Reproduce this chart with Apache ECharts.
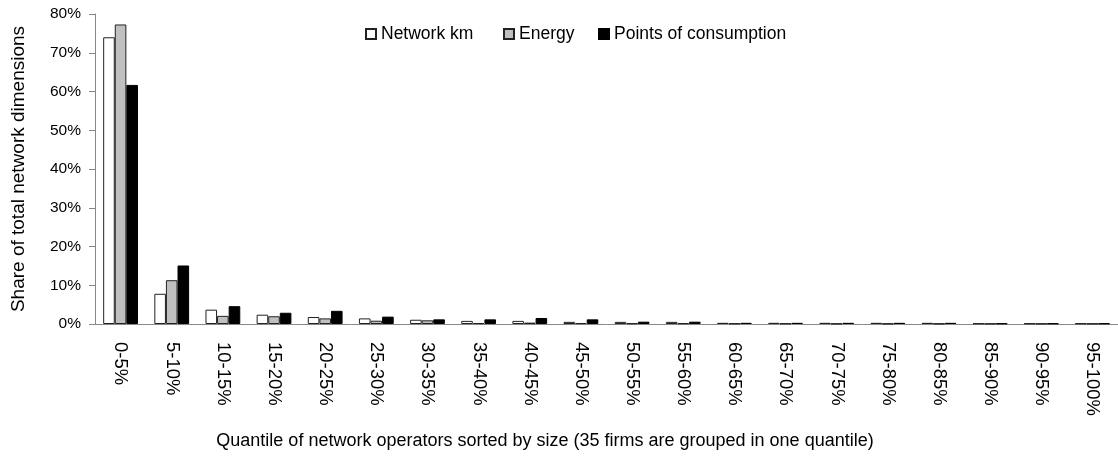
<!DOCTYPE html>
<html>
<head>
<meta charset="utf-8">
<title>Network dimensions by quantile</title>
<script src="https://cdn.jsdelivr.net/npm/echarts@6/dist/echarts.min.js"></script>
<style>
  html, body { margin: 0; padding: 0; background: #fff; }
  #container { width: 1118px; height: 456px; }
</style>
</head>
<body>
<div id="container"></div>
<script>
// quantile labels
var categories = ['0-5%', '5-10%', '10-15%', '15-20%', '20-25%', '25-30%', '30-35%', '35-40%',
  '40-45%', '45-50%', '50-55%', '55-60%', '60-65%', '65-70%', '70-75%', '75-80%',
  '80-85%', '85-90%', '90-95%', '95-100%'];

// shares in percent
var networkKm = [74.0, 7.8, 3.7, 2.4, 1.8, 1.45, 1.1, 0.8, 0.8, 0.55, 0.55, 0.55, 0.3, 0.3, 0.3, 0.3, 0.3, 0.15, 0.15, 0.15];
var energy = [77.3, 11.3, 2.1, 2.0, 1.45, 0.85, 0.95, 0.25, 0.35, 0.25, 0.2, 0.2, 0.15, 0.15, 0.1, 0.1, 0.1, 0.1, 0.1, 0.1];
var points = [61.7, 15.1, 4.6, 2.9, 3.4, 1.9, 1.2, 1.2, 1.55, 1.2, 0.6, 0.6, 0.3, 0.3, 0.3, 0.3, 0.3, 0.15, 0.15, 0.15];

var seriesNames = ['Network km', 'Energy', 'Points of consumption'];
var yTicks = [0, 10, 20, 30, 40, 50, 60, 70, 80];

var font = 'Liberation Sans, Arial, sans-serif';
var chart = echarts.init(document.getElementById('container'));

// one legend per entry so each can sit where the original has it
var legendLeft = [360, 498, 593];
var legends = seriesNames.map(function (name, i) {
  return {
    left: legendLeft[i],
    top: 20,
    itemWidth: 10,
    itemHeight: 10,
    icon: 'rect',
    selectedMode: false,
    textStyle: { fontSize: 17.5, color: '#000', fontFamily: font },
    data: [name]
  };
});

var option = {
  backgroundColor: '#fff',
  animation: false,
  textStyle: { fontFamily: font },
  legend: legends,
  grid: { left: 95, right: -8, top: 14, bottom: 132 },
  xAxis: {
    type: 'category',
    data: categories,
    axisLine: { lineStyle: { color: '#888' } },
    axisTick: { alignWithLabel: false, length: 5, lineStyle: { color: '#888' } },
    axisLabel: { rotate: -90, margin: 18, fontSize: 18.5, color: '#000', interval: 0 }
  },
  yAxis: {
    type: 'value',
    min: yTicks[0],
    max: yTicks[yTicks.length - 1],
    interval: 10,
    name: 'Share of total network dimensions',
    nameLocation: 'middle',
    nameGap: 67,
    nameTextStyle: { fontSize: 19, color: '#000' },
    splitLine: { show: false },
    axisLine: { show: true, lineStyle: { color: '#888' } },
    axisTick: { show: true, length: 6, lineStyle: { color: '#888' } },
    axisLabel: { formatter: '{value}%', fontSize: 15.5, color: '#000', margin: 14 }
  },
  graphic: [{
    type: 'text',
    x: 545,
    y: 432,
    style: {
      text: 'Quantile of network operators sorted by size (35 firms are grouped in one quantile)',
      fontSize: 18,
      fontFamily: font,
      fill: '#000',
      textAlign: 'center'
    }
  }],
  series: [
    {
      name: seriesNames[0], type: 'bar', data: networkKm,
      barGap: '0%', barCategoryGap: '32%',
      itemStyle: { color: '#fff', borderColor: '#222', borderWidth: 1 }
    },
    {
      name: seriesNames[1], type: 'bar', data: energy,
      itemStyle: { color: '#c0c0c0', borderColor: '#222', borderWidth: 1 }
    },
    {
      name: seriesNames[2], type: 'bar', data: points,
      itemStyle: { color: '#000', borderColor: '#000', borderWidth: 1 }
    }
  ]
};

chart.setOption(option);
</script>
</body>
</html>
